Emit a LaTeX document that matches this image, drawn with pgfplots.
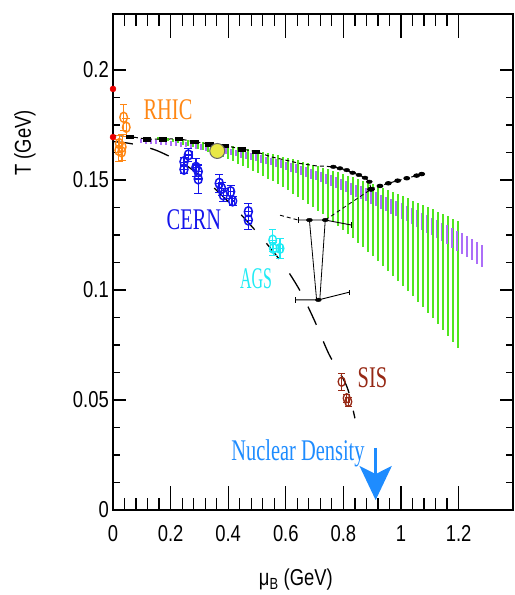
\documentclass[border=0pt]{standalone}
\usepackage{pgfplots}
\pgfplotsset{compat=1.18}
\usepackage{pgfplotstable}
\usepackage{fontspec}
\usepackage{graphicx}
\usetikzlibrary{arrows.meta}
\setmainfont{Liberation Serif}
\newfontfamily\condsans{Liberation Sans}[FakeStretch=0.8]
\newfontfamily\lblserif{Liberation Serif}[FakeStretch=0.68]
\newcommand\tickfont{\condsans\fontsize{23bp}{27bp}\selectfont}
\newcommand\lblfont{\lblserif\fontsize{30bp}{34bp}\selectfont}
\definecolor{lgreen}{RGB}{80,230,30}
\definecolor{lpurple}{RGB}{172,110,248}
\definecolor{cernblue}{RGB}{20,20,235}
\definecolor{agscyan}{RGB}{30,235,245}
\definecolor{sisbrown}{RGB}{150,40,20}
\definecolor{rhicor}{RGB}{255,135,20}
\definecolor{nucblue}{RGB}{30,140,255}
\definecolor{ptred}{RGB}{235,0,0}
\definecolor{ylw}{RGB}{232,232,70}

\pgfplotsset{common/.style={
  width=400bp, height=496bp, scale only axis,
  xmin=0, xmax=1.3889, ymin=0, ymax=0.22545,
  clip=false, tick align=inside,
  tick label style={font=\tickfont},
  xticklabel style={inner sep=0pt, yshift=-15bp},
  yticklabel style={inner sep=0pt, xshift=-4bp},
  axis line style={line width=1.6bp},
  every tick/.style={black, line width=1.2bp},
  /pgf/number format/assume math mode=true}}

% green band: x, centre, half-height
\pgfplotstableread{
x y e
0.155 0.16887 0.00048
0.1724 0.16860 0.00059
0.1898 0.16831 0.00072
0.2072 0.16798 0.00086
0.2246 0.16763 0.00101
0.242 0.16725 0.00117
0.2594 0.16684 0.00135
0.2768 0.16640 0.00153
0.2942 0.16593 0.00173
0.3116 0.16544 0.00194
0.329 0.16491 0.00216
0.3464 0.16436 0.00240
0.3638 0.16378 0.00265
0.3812 0.16317 0.00291
0.3986 0.16253 0.00318
0.416 0.16187 0.00346
0.4334 0.16117 0.00376
0.4508 0.16045 0.00406
0.4682 0.15970 0.00438
0.4856 0.15892 0.00472
0.503 0.15811 0.00506
0.5204 0.15727 0.00542
0.5378 0.15641 0.00578
0.5552 0.15551 0.00617
0.5726 0.15459 0.00656
0.59 0.15364 0.00696
0.6074 0.15266 0.00738
0.6248 0.15165 0.00781
0.6422 0.15062 0.00825
0.6596 0.14955 0.00870
0.677 0.14846 0.00917
0.6944 0.14734 0.00964
0.7118 0.14619 0.01013
0.7292 0.14501 0.01063
0.7466 0.14380 0.01115
0.764 0.14257 0.01167
0.7814 0.14130 0.01221
0.7988 0.14001 0.01276
0.8162 0.13869 0.01332
0.8336 0.13734 0.01390
0.851 0.13596 0.01448
0.8684 0.13456 0.01508
0.8858 0.13312 0.01569
0.9032 0.13166 0.01632
0.9206 0.13017 0.01695
0.938 0.12865 0.01760
0.9554 0.12710 0.01826
0.9728 0.12552 0.01893
0.9902 0.12392 0.01961
1.0076 0.12228 0.02031
1.025 0.12062 0.02101
1.0424 0.11893 0.02173
1.0598 0.11721 0.02246
1.0772 0.11546 0.02321
1.0946 0.11369 0.02396
1.112 0.11188 0.02473
1.1294 0.11005 0.02551
1.1468 0.10819 0.02630
1.1642 0.10630 0.02711
1.1816 0.10438 0.02792
1.199 0.10243 0.02875
}\greenbars

% purple band: x, centre, half-height
\pgfplotstableread{
x y e
0.0968 0.16770 0.00102
0.1142 0.16758 0.00103
0.1316 0.16745 0.00104
0.149 0.16729 0.00106
0.1664 0.16711 0.00107
0.1838 0.16692 0.00108
0.2012 0.16670 0.00110
0.2186 0.16647 0.00112
0.236 0.16622 0.00114
0.2534 0.16595 0.00116
0.2708 0.16565 0.00118
0.2882 0.16534 0.00121
0.3056 0.16501 0.00123
0.323 0.16466 0.00126
0.3404 0.16429 0.00129
0.3578 0.16390 0.00132
0.3752 0.16350 0.00135
0.3926 0.16307 0.00139
0.41 0.16262 0.00142
0.4274 0.16215 0.00146
0.4448 0.16167 0.00149
0.4622 0.16116 0.00153
0.4796 0.16064 0.00158
0.497 0.16010 0.00162
0.5144 0.15953 0.00166
0.5318 0.15895 0.00171
0.5492 0.15835 0.00175
0.5666 0.15773 0.00180
0.584 0.15709 0.00185
0.6014 0.15643 0.00190
0.6188 0.15575 0.00196
0.6362 0.15505 0.00201
0.6536 0.15433 0.00207
0.671 0.15359 0.00213
0.6884 0.15284 0.00218
0.7058 0.15206 0.00225
0.7232 0.15126 0.00231
0.7406 0.15045 0.00237
0.758 0.14961 0.00244
0.7754 0.14876 0.00250
0.7928 0.14789 0.00257
0.8102 0.14699 0.00264
0.8276 0.14608 0.00271
0.845 0.14515 0.00279
0.8624 0.14420 0.00286
0.8798 0.14323 0.00294
0.8972 0.14224 0.00301
0.9146 0.14123 0.00309
0.932 0.14020 0.00317
0.9494 0.13916 0.00325
0.9668 0.13809 0.00334
0.9842 0.13700 0.00342
1.0016 0.13590 0.00351
1.019 0.13477 0.00360
1.0364 0.13363 0.00369
1.0538 0.13246 0.00378
1.0712 0.13128 0.00387
1.0886 0.13008 0.00396
1.106 0.12886 0.00406
1.1234 0.12762 0.00416
1.1408 0.12635 0.00425
1.1582 0.12507 0.00435
1.1756 0.12377 0.00446
1.193 0.12246 0.00456
1.2104 0.12112 0.00466
1.2278 0.11976 0.00477
1.2452 0.11838 0.00488
1.2626 0.11699 0.00499
1.28 0.11557 0.00510
}\purplebars

\begin{document}
\begin{tikzpicture}
% axis carrying the T ticks (short)
\begin{axis}[common,
  xtick=\empty,
  ytick={0,0.05,0.1,0.15,0.2},
  yticklabels={0,0.05,0.1,0.15,0.2},
  minor y tick num=3,
  major tick length=13bp, minor tick length=7bp]
\end{axis}
% main axis carrying the mu_B ticks (long) and all data
\begin{axis}[common,
  ytick=\empty,
  xtick={0,0.2,0.4,0.6,0.8,1,1.2},
  xticklabels={0,0.2,0.4,0.6,0.8,1,1.2},
  minor x tick num=4,
  major tick length=24bp, minor tick length=12bp]
% green band
\addplot[draw=none, mark=none, forget plot, error bars/.cd, y dir=both, y explicit, error mark=none,
  error bar style={line width=1.8bp, draw=lgreen}]
  table[x=x, y=y, y error=e] {\greenbars};
% purple band
\addplot[draw=none, mark=none, forget plot, error bars/.cd, y dir=both, y explicit, error mark=none,
  error bar style={line width=1.9bp, draw=lpurple}]
  table[x=x, y=y, y error=e] {\purplebars};

% freeze-out curve (long dashes)
\addplot[black, line width=1.3bp, dash pattern=on 20bp off 18bp, smooth] coordinates {
(0,0.1675) (0.05,0.1668) (0.1,0.1655) (0.15,0.1635) (0.2,0.1605) (0.25,0.157)
(0.3,0.1522) (0.35,0.1465) (0.4,0.1402) (0.45,0.1335) (0.5,0.1262) (0.55,0.1185)
(0.6,0.1100) (0.65,0.0995) (0.7,0.0860) (0.75,0.0708) (0.8,0.0595) (0.82,0.053) (0.84,0.0417)};

% transition line (fine dashes)
\addplot[black, line width=1bp, dash pattern=on 4bp off 3bp] coordinates {
(0,0.1703) (0.059,0.1697) (0.117,0.1686) (0.173,0.1685) (0.227,0.1688) (0.282,0.1674)
(0.334,0.1664) (0.389,0.1656) (0.447,0.1641) (0.495,0.1629) (0.55,0.1605) (0.6,0.159)
(0.65,0.1575) (0.7,0.1565) (0.765,0.1560) (0.788,0.1553) (0.8115,0.1545) (0.832,0.1533)
(0.854,0.1523) (0.875,0.1510) (0.890,0.1492) (0.896,0.1458)};
\addplot[only marks, mark=square*, mark size=2bp, mark options={xscale=1.8, yscale=0.95, black}] coordinates {
(0.059,0.1697) (0.117,0.1686) (0.173,0.1685) (0.227,0.1688) (0.282,0.1674)
(0.334,0.1664) (0.389,0.1656) (0.447,0.1641) (0.495,0.1629)};
\addplot[only marks, mark=*, mark size=2bp, mark options={xscale=1.5, yscale=0.9, black}] coordinates {
(0.765,0.1560) (0.788,0.1553) (0.8115,0.1545) (0.832,0.1533) (0.854,0.1523) (0.875,0.1510) (0.890,0.1492)};
% branch to upper right
\addplot[black, line width=1bp, dash pattern=on 4bp off 3bp, mark=*, mark size=1.9bp,
  mark options={xscale=1.5, yscale=0.9, solid}] coordinates {
(0.896,0.1458) (0.927,0.1473) (0.956,0.1485) (0.9885,0.1497) (1.020,0.1508) (1.0545,0.1520) (1.072,0.1527)};
% dashed link to upper critical point
\addplot[black, line width=0.8bp, dash pattern=on 4bp off 3bp] coordinates {(0.737,0.1318) (0.896,0.1458)};

% critical point estimates
\addplot[black, line width=0.9bp] coordinates {(0.643,0.1318) (0.682,0.1318) (0.737,0.1318) (0.829,0.1295)};
\addplot[black, line width=0.9bp, dash pattern=on 4bp off 3bp] coordinates {(0.58,0.1340) (0.643,0.1318)};
\addplot[black, line width=0.9bp] coordinates {(0.643,0.1306) (0.643,0.1330)};
\addplot[black, line width=0.9bp] coordinates {(0.829,0.1283) (0.829,0.1307)};
\addplot[black, line width=0.9bp] coordinates {(0.635,0.0955) (0.713,0.0955) (0.8205,0.0990)};
\addplot[black, line width=0.9bp] coordinates {(0.635,0.0943) (0.635,0.0967)};
\addplot[black, line width=0.9bp] coordinates {(0.8205,0.0978) (0.8205,0.1002)};
\addplot[black, line width=0.8bp] coordinates {(0.682,0.1318) (0.707,0.0955)};
\addplot[black, line width=0.8bp] coordinates {(0.737,0.1318) (0.718,0.0955)};
\addplot[only marks, mark=*, mark size=2bp, mark options={xscale=1.5, yscale=0.9, black}] coordinates {
(0.682,0.1318) (0.737,0.1318) (0.713,0.0955)};
\addplot[only marks, mark=*, mark size=2.4bp, mark options={xscale=1.5, yscale=0.9, black}] coordinates {(0.896,0.1458)};

% yellow point
\addplot[only marks, mark=*, mark size=7.5bp, mark options={fill=ylw, draw=gray!80!black, line width=1bp}] coordinates {(0.362,0.1632)};

% RHIC
\addplot[only marks, mark=o, mark size=3.8bp, color=rhicor, mark options={line width=1.4bp, yscale=1.35},
  error bars/.cd, y dir=both, y explicit, error bar style={line width=1.3bp}]
  table[x=x, y=y, y error=ey] {
x y ey
0.037 0.1785 0.006
0.046 0.1740 0.004
0.022 0.1665 0.004
0.032 0.1650 0.006
0.020 0.1635 0.005
0.030 0.1628 0.004
};
% CERN
\addplot[only marks, mark=o, mark size=4bp, color=cernblue, mark options={line width=1.5bp, yscale=1.25},
  error bars/.cd, x dir=both, x explicit, y dir=both, y explicit, error bar style={line width=1.3bp}]
  table[x=x, y=y, x error=ex, y error=ey] {
x y ex ey
0.2616 0.1614 0.012 0.003
0.2465 0.1583 0 0.002
0.2465 0.1549 0 0.002
0.288 0.1558 0.008 0.004
0.296 0.1538 0 0.003
0.296 0.1505 0 0.0065
0.369 0.1485 0 0.004
0.377 0.1462 0 0.003
0.383 0.1432 0 0.003
0.4085 0.1447 0.008 0.003
0.4155 0.1405 0.006 0.002
0.470 0.1356 0 0.004
0.470 0.1318 0 0.004
};
% AGS
\addplot[only marks, mark=o, mark size=3.8bp, color=agscyan, mark options={line width=1.4bp, yscale=1.3},
  error bars/.cd, x dir=both, x explicit, y dir=both, y explicit, error bar style={line width=1.3bp}]
  table[x=x, y=y, x error=ex, y error=ey] {
x y ex ey
0.5545 0.1227 0 0.005
0.5566 0.1189 0 0.003
0.580 0.1189 0.008 0.0045
};
% SIS
\addplot[only marks, mark=o, mark size=3.5bp, color=sisbrown, mark options={line width=1.3bp, yscale=1.3},
  error bars/.cd, y dir=both, y explicit, error bar style={line width=1.2bp}]
  table[x=x, y=y, y error=ey] {
x y ey
0.794 0.0583 0.004
0.8115 0.0508 0.002
0.817 0.0492 0.002
};
% red points on the axis
\addplot[only marks, mark=*, mark size=3bp, color=ptred] coordinates {(0,0.1914) (0,0.1695)};

% labels
\node[font=\lblfont, text=rhicor, anchor=base] at (axis cs:0.191,0.1773) {RHIC};
\node[font=\lblfont, text=cernblue, anchor=base] at (axis cs:0.281,0.1273) {CERN};
\node[font=\lblfont, text=agscyan, anchor=base] at (axis cs:0.4965,0.1009) {\scalebox{0.78}[1]{AGS}};
\node[font=\lblfont, text=sisbrown, anchor=base] at (axis cs:0.901,0.0559) {SIS};
\node[font=\lblfont, text=nucblue, anchor=base] at (axis cs:0.6424,0.0227) {Nuclear Density};
\draw[line width=3.5bp, color=nucblue, -{Stealth[length=34bp, width=32bp, inset=8bp]}]
  (axis cs:0.912,0.0282) -- (axis cs:0.912,0.0045);

\node[font=\tickfont, anchor=base] at (axis cs:0.635,-0.0345) {μ\textsubscript{B} (GeV)};
\node[font=\tickfont, rotate=90] at (axis cs:-0.3056,0.1668) {T (GeV)};

\coordinate (bbSW) at (axis cs:-0.39236,-0.038636);
\coordinate (bbNE) at (axis cs:1.3924,0.23182);
\end{axis}
\pgfresetboundingbox
\path (bbSW) rectangle (bbNE);
\end{tikzpicture}
\end{document}
